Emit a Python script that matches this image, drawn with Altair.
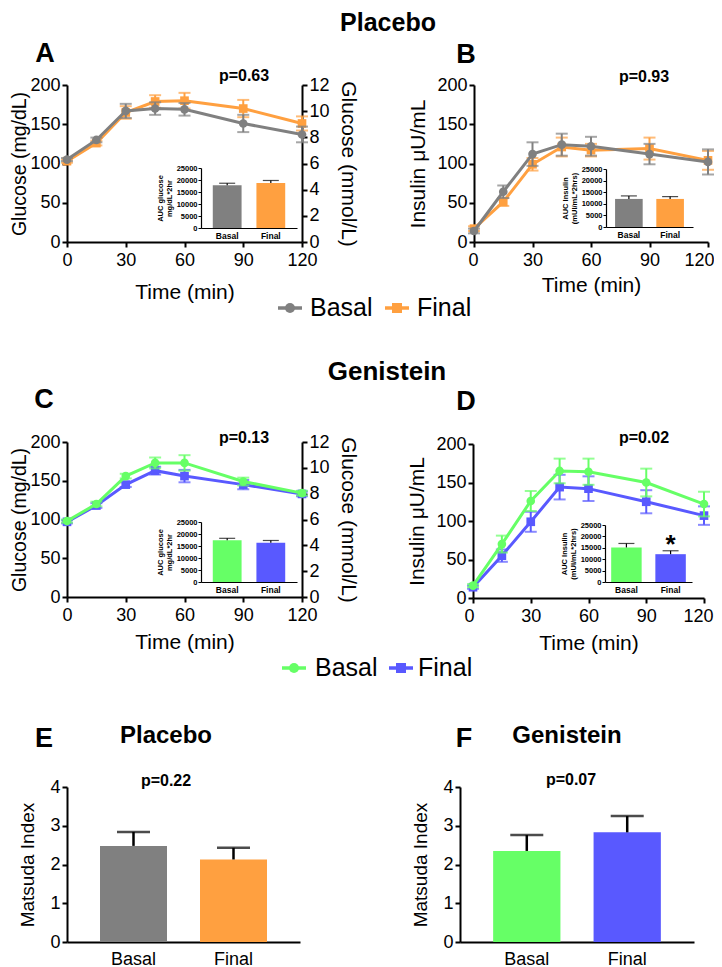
import altair as alt
import pandas as pd

W, H = 706, 959
M = 8
FONT = "Liberation Sans"

GREY = "#808080"
ORANGE = "#FFA040"
GREEN = "#66FF66"
BLUE = "#5959FF"

times = [0, 15, 30, 45, 60, 90, 120]
groups = ["Basal", "Final"]

# A: glucose (mg/dL), placebo
a_basal = [105, 130, 167, 170, 169, 151, 137]
a_basal_sem = [2, 3, 9, 8, 8, 11, 10]
a_final = [103, 126, 165, 179, 180, 170, 151]
a_final_sem = [2, 3, 8, 8, 10, 11, 9]
# B: insulin (uU/mL), placebo
b_basal = [14, 64, 112, 124, 122, 112, 102]
b_basal_sem = [3, 8, 15, 14, 12, 13, 16]
b_final = [17, 51, 99, 121, 117, 119, 104]
b_final_sem = [3, 5, 8, 12, 8, 14, 12]
# C: glucose, genistein
c_basal = [98, 120, 156, 173, 173, 149, 134]
c_basal_sem = [2, 3, 3, 7, 10, 5, 3]
c_final = [97, 118, 145, 163, 156, 145, 133]
c_final_sem = [2, 3, 3, 5, 8, 6, 3]
# D: insulin, genistein
d_basal = [16, 70, 126, 165, 164, 150, 122]
d_basal_sem = [2, 11, 13, 16, 17, 18, 16]
d_final = [14, 55, 99, 144, 142, 125, 107]
d_final_sem = [2, 8, 13, 16, 16, 15, 12]

# inset AUC values
auc_a = [17800, 18800]
auc_a_sem = [850, 1000]
auc_b = [12100, 12100]
auc_b_sem = [1300, 1000]
auc_c = [17400, 16400]
auc_c_sem = [800, 900]
auc_d = [15150, 12200]
auc_d_sem = [1750, 1500]

# Matsuda index
mats_e = [2.48, 2.13]
mats_e_sem = [0.36, 0.30]
mats_f = [2.35, 2.83]
mats_f_sem = [0.41, 0.42]

one = alt.Data(values=[{"k": 0}])


def ax(**kw):
    base = dict(grid=False, domainColor="black", domainWidth=2, tickColor="black",
                tickWidth=2, tickSize=5, labelFont=FONT, labelFontSize=18,
                labelColor="black", labelPadding=2, labelFlush=False, labelOverlap=False,
                titleFont=FONT, titleFontSize=21, titleFontWeight="normal",
                titleColor="black")
    base.update(kw)
    return alt.Axis(**base)


def line_panel(box, basal, basal_sem, final, final_sem, c_basal, c_final, ytitle,
               xtp, ytp, ytfs=21, flush=0):
    x0, x1, yt, yb = box
    xs = alt.Scale(domain=[0, 120], range=[x0 - M, x1 - M], nice=False, zero=False)
    ys = alt.Scale(domain=[0, 200], range=[yb - M, yt - M], nice=False, zero=False)
    xkw = dict(orient="bottom", offset=(yb - M) - H, values=[0, 30, 60, 90, 120],
               title="Time (min)", labelPadding=4, titlePadding=xtp)
    if flush:
        xkw.update(labelFlush=True, labelFlushOffset=flush)
    xa = ax(**xkw)
    ya = ax(orient="left", offset=-(x0 - M), values=[0, 50, 100, 150, 200],
            title=ytitle, titlePadding=ytp, titleFontSize=ytfs)
    X = alt.X("t:Q", scale=xs, axis=xa)

    def Y(f):
        return alt.Y(f + ":Q", scale=ys, axis=ya)

    layers = []
    for vals, sems, color, shape in [(final, final_sem, c_final, "square"),
                                     (basal, basal_sem, c_basal, "circle")]:
        df = pd.DataFrame({"t": times, "v": vals,
                           "lo": [v - s for v, s in zip(vals, sems)],
                           "hi": [v + s for v, s in zip(vals, sems)]})
        b = alt.Chart(df)
        layers += [
            b.mark_rule(color=color, strokeWidth=2).encode(x=X, y=Y("lo"), y2=alt.Y2("hi")),
            b.mark_tick(color=color, orient="horizontal", size=12, thickness=2).encode(x=X, y=Y("lo")),
            b.mark_tick(color=color, orient="horizontal", size=12, thickness=2).encode(x=X, y=Y("hi")),
            b.mark_line(color=color, strokeWidth=3).encode(x=X, y=Y("v")),
            b.mark_point(filled=True, opacity=1, color=color, shape=shape, size=75).encode(x=X, y=Y("v")),
        ]
    return alt.layer(*layers)


def right_axis(box):
    x0, x1, yt, yb = box
    df = pd.DataFrame({"mmol": [0, 12]})
    return alt.Chart(df).mark_point(opacity=0).encode(
        y=alt.Y("mmol:Q",
                scale=alt.Scale(domain=[0, 12], range=[yb - M, yt - M], nice=False),
                axis=ax(orient="right", offset=(x1 - M) - W, values=list(range(0, 13, 2)),
                        title="Glucose (mmol/L)", titlePadding=8)))


def inset(box, vals, sems, colors, ytitle, pi, po, star=False):
    x0, x1, yt, yb = box
    xs = alt.Scale(domain=groups, range=[x0 - M, x1 - M], paddingInner=pi, paddingOuter=po)
    ys = alt.Scale(domain=[0, 25000], range=[yb - M, yt - M], nice=False)
    xa = alt.Axis(orient="bottom", offset=(yb - M) - H, title="", ticks=False, labelAngle=0,
                  labelFont=FONT, labelFontSize=8.5, labelFontWeight="bold", labelColor="black",
                  labelPadding=3, domainColor="black", domainWidth=1.2, grid=False)
    ya = alt.Axis(orient="left", offset=-(x0 - M), values=[0, 5000, 10000, 15000, 20000, 25000],
                  format="d", title=ytitle, titleFont=FONT, titleFontSize=7.5,
                  titleFontWeight="bold", titleColor="black", titlePadding=3, titleLineHeight=9,
                  labelFont=FONT, labelFontSize=7.5, labelFontWeight="bold", labelColor="black",
                  labelPadding=1, tickSize=3, tickWidth=1, tickColor="black",
                  domainColor="black", domainWidth=1.2, grid=False, labelFlush=False,
                  labelOverlap=False)
    df = pd.DataFrame({"g": groups, "v": vals, "hi": [v + s for v, s in zip(vals, sems)]})
    b = alt.Chart(df)
    X = alt.X("g:N", scale=xs, axis=xa)

    def Y(f):
        return alt.Y(f + ":Q", scale=ys, axis=ya)

    layers = [
        b.mark_bar().encode(x=X, y=Y("v"),
                            color=alt.Color("g:N", scale=alt.Scale(domain=groups, range=colors),
                                            legend=None)),
        b.mark_rule(color="black", strokeWidth=1.2).encode(x=X, y=Y("v"), y2=alt.Y2("hi")),
        b.mark_tick(color="black", orient="horizontal", size=16, thickness=1.2).encode(x=X, y=Y("hi")),
    ]
    if star:
        sdf = df[df["g"] == "Final"]
        layers.append(alt.Chart(sdf).mark_text(text="*", font=FONT, fontSize=26, fontWeight="bold",
                                               baseline="alphabetic", dy=2, color="black")
                      .encode(x=X, y=Y("hi")))
    return alt.layer(*layers)


def bar_panel(box, vals, sems, colors, ytp):
    x0, x1, yt, yb = box
    xs = alt.Scale(domain=groups, range=[x0 - M, x1 - M], paddingInner=0.33, paddingOuter=0.33)
    ys = alt.Scale(domain=[0, 4], range=[yb - M, yt - M], nice=False)
    xa = ax(orient="bottom", offset=(yb - M) - H, title="", ticks=False, labelAngle=0, labelPadding=8)
    ya = ax(orient="left", offset=-(x0 - M), values=[0, 1, 2, 3, 4], title="Matsuda Index",
            titleFontSize=19, titlePadding=ytp)
    df = pd.DataFrame({"g": groups, "v": vals, "hi": [v + s for v, s in zip(vals, sems)]})
    b = alt.Chart(df)
    X = alt.X("g:N", scale=xs, axis=xa)

    def Y(f):
        return alt.Y(f + ":Q", scale=ys, axis=ya)

    return alt.layer(
        b.mark_bar().encode(x=X, y=Y("v"),
                            color=alt.Color("g:N", scale=alt.Scale(domain=groups, range=colors),
                                            legend=None)),
        b.mark_rule(color="black", strokeWidth=2.5).encode(x=X, y=Y("v"), y2=alt.Y2("hi")),
        b.mark_tick(color="black", orient="horizontal", size=33, thickness=2.5).encode(x=X, y=Y("hi")),
    )


def txt(s, x, y, size, bold=True, align="center", baseline="alphabetic"):
    return alt.Chart(one).mark_text(
        text=s, font=FONT, fontSize=size, fontWeight="bold" if bold else "normal",
        align=align, baseline=baseline, color="black"
    ).encode(x=alt.value(x - M), y=alt.value(y - M))


def legend_item(xc, y, color, shape, label, tx):
    line = alt.Chart(one).mark_rule(color=color, strokeWidth=3.5).encode(
        x=alt.value(xc - 12 - M), x2=alt.value(xc + 12 - M), y=alt.value(y - M))
    pt = alt.Chart(one).mark_point(filled=True, opacity=1, color=color, shape=shape, size=100).encode(
        x=alt.value(xc - M), y=alt.value(y - M))
    return [line, pt, txt(label, tx, y, 25, bold=False, align="left", baseline="middle")]


A_box = (67, 302, 85, 242)
B_box = (474, 708, 85, 242)
C_box = (67, 302, 442, 597)
D_box = (473, 704, 444, 598)
E_box = (67, 300, 787, 942)
F_box = (460, 694, 787, 942)

layers = [
    line_panel(A_box, a_basal, a_basal_sem, a_final, a_final_sem, GREY, ORANGE,
               "Glucose (mg/dL)", 12, 0, ytfs=19.5),
    right_axis(A_box),
    inset((201, 297, 168, 228), auc_a, auc_a_sem, [GREY, ORANGE],
          ["AUC glucose", "mg/dL*2hr"], 0.34, 0.27),
    line_panel(B_box, b_basal, b_basal_sem, b_final, b_final_sem, GREY, ORANGE,
               "Insulin \u03bcU/mL", 5, 8, flush=6),
    inset((606, 693, 169, 227), auc_b, auc_b_sem, [GREY, ORANGE],
          ["AUC Insulin", "(mUI/mL*2hrs)"], 0.33, 0.22),
    line_panel(C_box, c_basal, c_basal_sem, c_final, c_final_sem, GREEN, BLUE,
               "Glucose (mg/dL)", 7, 0, ytfs=19.5),
    right_axis(C_box),
    inset((201, 297, 522, 582), auc_c, auc_c_sem, [GREEN, BLUE],
          ["AUC glucose", "mg/dL*2hr"], 0.34, 0.27),
    line_panel(D_box, d_basal, d_basal_sem, d_final, d_final_sem, GREEN, BLUE,
               "Insulin \u03bcU/mL", 7, 8, flush=9),
    inset((605, 692, 525, 582), auc_d, auc_d_sem, [GREEN, BLUE],
          ["AUC Insulin", "(mUI/mL*2hrs)"], 0.31, 0.14, star=True),
    bar_panel(E_box, mats_e, mats_e_sem, [GREY, ORANGE], 12),
    bar_panel(F_box, mats_f, mats_f_sem, [GREEN, BLUE], 12),
    txt("Placebo", 388, 31, 25),
    txt("A", 45, 62, 27),
    txt("B", 466, 63, 27),
    txt("p=0.63", 244, 81, 16),
    txt("p=0.93", 644, 82, 16),
    txt("Genistein", 387, 380, 26),
    txt("C", 44, 408, 27),
    txt("D", 466, 410, 27),
    txt("p=0.13", 244, 443, 16),
    txt("p=0.02", 644, 443, 16),
    txt("E", 44, 747, 27),
    txt("Placebo", 166, 743, 24),
    txt("p=0.22", 166, 786, 16),
    txt("F", 464, 747, 27),
    txt("Genistein", 567, 743, 24),
    txt("p=0.07", 571, 785, 16),
]
layers += legend_item(290, 308, GREY, "circle", "Basal", 310)
layers += legend_item(397, 308, ORANGE, "square", "Final", 417)
layers += legend_item(294, 668, GREEN, "circle", "Basal", 315)
layers += legend_item(401, 668, BLUE, "square", "Final", 418)

chart = alt.layer(*layers).resolve_scale(
    x="independent", y="independent", color="independent"
).resolve_axis(
    x="independent", y="independent"
).properties(
    width=W, height=H, autosize=alt.AutoSizeParams(type="none"), padding=0
).configure_view(strokeWidth=0)

chart.save("out.html", embed_options={"renderer": "svg", "actions": False})
